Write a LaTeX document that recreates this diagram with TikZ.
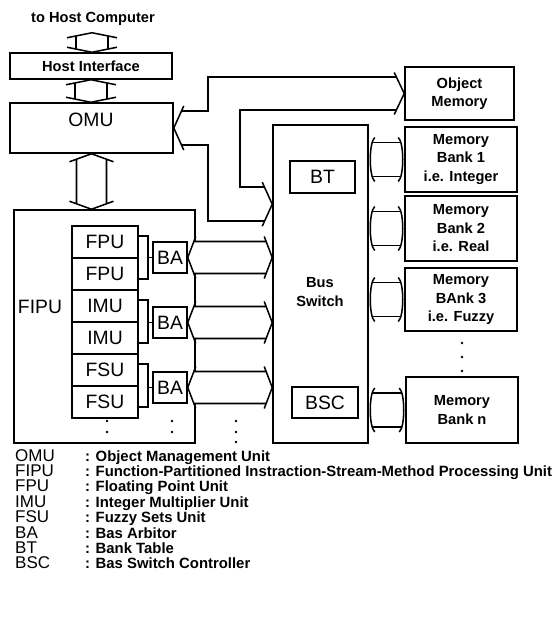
\documentclass[tikz,border=0pt]{standalone}
\usepackage{fontspec}
\setmainfont{Liberation Sans}
\usetikzlibrary{calc,positioning}

% wide double-headed bus, left apex #1, right apex #2, half width #3, head depth #4, overshoot #5
\newcommand{\hbus}[5]{%
  \pgfmathsetmacro\busdd{#4*#3/(#3+#5)}%
  \pgfmathsetmacro\busee{#4-\busdd}%
  \path[bus] (#1) -- ++(#4,-#3-#5) -- ++(-\busee,#5) -- ($(#2)+(-\busdd,-#3)$) -- ++(-\busee,-#5)
    -- (#2) -- ++(-#4,#3+#5) -- ++(\busee,-#5) -- ($(#1)+(\busdd,#3)$) -- ++(\busee,#5) -- cycle;}
% same, vertical: top apex #1, bottom apex #2
\newcommand{\vbus}[5]{%
  \pgfmathsetmacro\busdd{#4*#3/(#3+#5)}%
  \pgfmathsetmacro\busee{#4-\busdd}%
  \path[bus] (#1) -- ++(#3+#5,#4) -- ++(-#5,-\busee) -- ($(#2)+(#3,-\busdd)$) -- ++(#5,-\busee)
    -- (#2) -- ++(-#3-#5,-#4) -- ++(#5,\busee) -- ($(#1)+(-#3,\busdd)$) -- ++(-#5,\busee) -- cycle;}
% bus to a memory bank, round heads
\newcommand{\bankbus}[3]{%
  \draw[link] ($(#1)+(6,-#3-5)$) .. controls ($(#1)+(0,-#3)$) and ($(#1)+(0,#3)$) .. ($(#1)+(6,#3+5)$);
  \draw[link] ($(#2)+(-6,-#3-5)$) .. controls ($(#2)+(0,-#3)$) and ($(#2)+(0,#3)$) .. ($(#2)+(-6,#3+5)$);
  \draw[link] ($(#1)+(3.5,-#3)$) -- ($(#2)+(-3.5,-#3)$);
  \draw[link] ($(#1)+(3.5,#3)$) -- ($(#2)+(-3.5,#3)$);}

\begin{document}
\begin{tikzpicture}[
    x=0.03cm, y=-0.03cm,
    box/.style={draw, line width=1.3pt, inner sep=0pt},
    sz/.style 2 args={minimum width=#1*0.03cm, minimum height=#2*0.03cm},
    link/.style={draw, line width=1.3pt},
    bus/.style={draw, fill=white, line width=1.3pt, line join=miter},
    small/.style={font=\bfseries\fontsize{12.5}{15.8}\selectfont, align=center},
    big/.style={font=\fontsize{16.5}{18}\selectfont},
    abbr/.style={font=\fontsize{14.5}{16}\selectfont, anchor=base west, inner sep=0pt},
    desc/.style={font=\bfseries\fontsize{12.7}{14}\selectfont, anchor=base west, inner sep=0pt}
]
\useasboundingbox (0,0) rectangle (556,624);

% host side
\node[small] (hostpc) at (93,19) {to Host Computer};
\node[box, sz={162}{26}, small] (hif) at (91,66) {Host Interface};
\node[box, sz={163}{50}] (omu) at (91.5,128) {};
\node[big] (omulbl) at (91,120) {OMU};

% FIPU with its units
\node[box, sz={181}{233}] (fipu) at (104.5,326.5) {};
\node[big] (fipulbl) at (40,307) {FIPU};
\foreach \name/\lab [count=\i] in {u1/FPU,u2/FPU,u3/IMU,u4/IMU,u5/FSU,u6/FSU}
    \node[box, sz={66}{32}, big] (\name) at (105,210+32*\i) {\lab};
\foreach \i/\y in {1/257.5,2/322.5,3/387.5}
    \node[box, sz={34}{31}, big] (ba\i) at (170,\y) {BA};
\foreach \a/\b/\i in {u1/u2/1,u3/u4/2,u5/u6/3} {
    \draw[link] ($(\a.east)+(0,-6)$) -| ($(ba\i.west)+(-4,0)$) |- ($(\b.east)+(0,5)$);
    \draw[link] ($(ba\i.west)+(-4,0)$) -- (ba\i.west);
}

% bus switch
\node[box, sz={95}{318}] (bsw) at (320.5,284) {};
\node[small] (bswlbl) at (320,292) {Bus\\Switch};
\node[box, sz={65}{32}, big] (bt) at (322.5,177) {BT};
\node[box, sz={66}{31}, big] (bsc) at (325,402.5) {BSC};

% memories
\node[box, sz={109}{53}, small] (om) at (459.5,93.5) {Object\\Memory};
\node[box, sz={112}{65}, small] (bank1) at (461,159.5) {Memory\\Bank 1\\i.e. Integer};
\node[box, sz={112}{65}, small] (bank2) at (461,228.5) {Memory\\Bank 2\\i.e. Real};
\node[box, sz={112}{63}, small] (bank3) at (461,299.5) {Memory\\BAnk 3\\i.e. Fuzzy};
\node[box, sz={112}{66}, small] (bankn) at (462,410) {Memory\\Bank n};

% vertical buses
\coordinate (hostA) at ($(hostpc.south)+(-1,3)$);
\coordinate (hostB) at (hostA |- hif.north);
\vbus{hostA}{hostB}{16}{5}{9}
\coordinate (hifA) at (hif.south);
\coordinate (hifB) at (hif.south |- omu.north);
\vbus{hifA}{hifB}{16}{5}{9}
\coordinate (omuS) at (omu.south);
\coordinate (fipuN) at (omu.south |- fipu.north);
\vbus{omuS}{fipuN}{15}{8}{7}

% OMU - Object Memory - Bus Switch
\coordinate (omuA) at (omu.east);
\coordinate (omA) at (om.west);
\coordinate (bswA) at ($(bsw.north west)+(0,80)$);
\coordinate (jx1) at (208,0);
\coordinate (jx2) at (240,0);
\draw[link] ($(omuA)+(10,-22)$) -- (omuA) -- ($(omuA)+(10,22)$);
\draw[link] ($(omA)+(-10,-21)$) -- (omA) -- ($(omA)+(-10,21)$);
\draw[link] ($(bswA)+(-10,-22)$) -- (bswA) -- ($(bswA)+(-10,22)$);
\coordinate (omutop) at ($(omuA)+(7.7,-17)$);
\coordinate (omubot) at ($(omuA)+(7.7,17)$);
\coordinate (omtop) at ($(omA)+(-7.6,-16.5)$);
\coordinate (ombot) at ($(omA)+(-7.6,16.5)$);
\coordinate (bswtop) at ($(bswA)+(-7.7,-17)$);
\coordinate (bswbot) at ($(bswA)+(-7.7,17)$);
\draw[link] (omutop) -| (jx1 |- omtop) -- (omtop);
\draw[link] (omubot) -| (jx1 |- bswbot) -- (bswbot);
\draw[link] (ombot) -| (jx2 |- bswtop) -- (bswtop);

% BA to bus switch
\foreach \i in {1,2,3} {
    \coordinate (ba\i r) at (ba\i.east -| bsw.west);
    \hbus{ba\i.east}{ba\i r}{16}{8}{5}
}

% bus switch to banks
\foreach \b in {bank1,bank2,bank3,bankn} {
    \coordinate (\b-l) at (\b.west -| bsw.east);
    \bankbus{\b-l}{\b.west}{17}
}

% more of the same
\foreach \p in {(107,421),(107,432),(172,421),(172,432),(236,421),(236,432),(236,442),(462,343),(462,357),(462,371)}
    \fill \p circle (1.2pt);

% legend
\foreach \ab/\de [count=\i from 0] in {OMU/Object Management Unit,FIPU/Function-Partitioned Instraction-Stream-Method Processing Unit,FPU/Floating Point Unit,IMU/Integer Multiplier Unit,FSU/Fuzzy Sets Unit,BA/Bas Arbitor,BT/Bank Table,BSC/Bas Switch Controller} {
    \node[abbr] (ab\i) at (15,461+15.4*\i) {\ab};
    \node[desc] (de\i) at (85,461+15.4*\i) {: \de};
}

\end{tikzpicture}
\end{document}
